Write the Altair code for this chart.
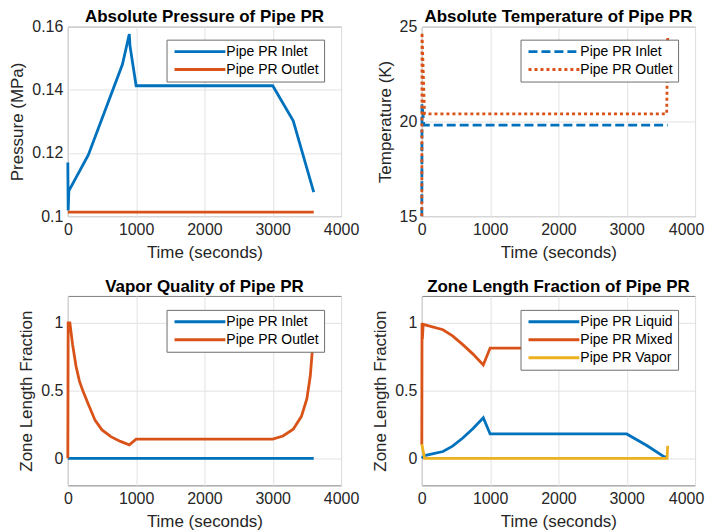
import altair as alt
import pandas as pd

FONT = "Liberation Sans"
BLUE, ORANGE, YELLOW = "#0072BD", "#D95319", "#EDB120"

# ---------------- data ----------------
# Absolute pressure (MPa)
p_in_t = [0, 5, 15, 300, 800, 900, 910, 1000, 3000, 3300, 3600]
p_in_v = [0.117, 0.1018, 0.108, 0.1194, 0.1481, 0.1577, 0.1539, 0.1413, 0.1413, 0.1302, 0.1076]
p_out_t = [0, 3600]
p_out_v = [0.1013, 0.1013]

# Absolute temperature (K)
T_in_t = [0, 3, 30, 3600]
T_in_v = [15.0, 20.9, 19.8, 19.8]
T_out_t = [0, 3, 40, 3585, 3600]
T_out_v = [15.0, 24.7, 20.4, 20.4, 24.5]

# Vapor quality
q_in_t = [0, 3600]
q_in_v = [0.0, 0.0]
q_out_t = [0, 5, 30, 70, 120, 170, 220, 300, 400, 500, 630, 770, 900, 1000,
           3000, 3150, 3300, 3420, 3500, 3550, 3580, 3600]
q_out_v = [0.0, 1.0, 1.0, 0.84, 0.68, 0.57, 0.5, 0.40, 0.28, 0.21, 0.16, 0.125, 0.10, 0.142,
           0.142, 0.165, 0.215, 0.31, 0.44, 0.61, 0.80, 1.0]

# Zone length fraction
z_liq_t = [0, 40, 310, 450, 600, 750, 900, 1000, 3000, 3300, 3550, 3600]
z_liq_v = [0.0, 0.02, 0.05, 0.09, 0.15, 0.22, 0.30, 0.18, 0.18, 0.093, 0.01, 0.01]
z_mix_t = [0, 3, 8, 20, 310, 450, 600, 750, 900, 1000, 3000, 3300, 3550, 3600]
z_mix_v = [0.1, 1.0, 0.88, 0.99, 0.95, 0.905, 0.84, 0.77, 0.69, 0.815, 0.815, 0.905, 0.98, 0.90]
z_vap_t = [0, 40, 3590, 3600]
z_vap_v = [0.105, 0.0, 0.0, 0.093]

x_ticks = [0, 1000, 2000, 3000, 4000]


def frame(series):
    rows = []
    for name, ts, vs in series:
        for i, (t, v) in enumerate(zip(ts, vs)):
            rows.append({"s": name, "t": t, "v": v, "i": i})
    return pd.DataFrame(rows)


def panel(series, title, ytitle, ydomain, yticks, yfmt, colors, lx, ly,
          dashes=None, right=False, title_offset=-7):
    names = [s[0] for s in series]
    df = frame(series)
    leg = alt.Legend(
        title=None, orient="none", legendX=lx, legendY=ly,
        fillColor="white", padding=5, symbolType="M-0.8,0L9.4,0", symbolSize=100,
        symbolStrokeWidth=3, labelFont=FONT, labelFontSize=14, labelColor="#000000",
        labelOffset=41, rowPadding=4, labelLimit=300,
    )
    xaxis_kw = dict(values=x_ticks, format="d", title="Time (seconds)", labelFlush=False)
    if right:
        # keep the last label inside the page
        xaxis_kw["labelOffset"] = {"condition": {"test": "datum.value === 4000", "value": -9}, "value": 0}
    enc = dict(
        x=alt.X("t:Q", scale=alt.Scale(domain=[0, 4000], nice=False), axis=alt.Axis(**xaxis_kw)),
        y=alt.Y("v:Q", scale=alt.Scale(domain=ydomain, nice=False, zero=False),
                axis=alt.Axis(values=yticks, format=yfmt, title=ytitle)),
        color=alt.Color("s:N", scale=alt.Scale(domain=names, range=colors), legend=leg),
        order=alt.Order("i:Q"),
    )
    if dashes is not None:
        enc["strokeDash"] = alt.StrokeDash("s:N", scale=alt.Scale(domain=names, range=dashes), legend=leg)
    return (
        alt.Chart(df, title=alt.TitleParams(title, offset=title_offset))
        .mark_line(strokeWidth=2.8)
        .encode(**enc)
        .properties(width=274, height=190)
    )


c1 = panel([("Pipe PR Inlet", p_in_t, p_in_v), ("Pipe PR Outlet", p_out_t, p_out_v)],
           "Absolute Pressure of Pipe PR", "Pressure (MPa)", [0.1, 0.16],
           [0.1, 0.12, 0.14, 0.16], ".2~f", [BLUE, ORANGE], 99, 13)
c2 = panel([("Pipe PR Inlet", T_in_t, T_in_v), ("Pipe PR Outlet", T_out_t, T_out_v)],
           "Absolute Temperature of Pipe PR", "Temperature (K)", [15, 25],
           [15, 20, 25], "d", [BLUE, ORANGE], 99, 13, dashes=[[9, 4], [3, 3]], right=True)
c3 = panel([("Pipe PR Inlet", q_in_t, q_in_v), ("Pipe PR Outlet", q_out_t, q_out_v)],
           "Vapor Quality of Pipe PR", "Zone Length Fraction", [-0.2, 1.2],
           [0, 0.5, 1], ".1~f", [BLUE, ORANGE], 99, 14, title_offset=-0.5)
c4 = panel([("Pipe PR Liquid", z_liq_t, z_liq_v), ("Pipe PR Mixed", z_mix_t, z_mix_v),
            ("Pipe PR Vapor", z_vap_t, z_vap_v)],
           "Zone Length Fraction of Pipe PR", "Zone Length Fraction", [-0.2, 1.2],
           [0, 0.5, 1], ".1~f", [BLUE, ORANGE, YELLOW], 99, 14, right=True, title_offset=-0.5)

chart = (
    alt.concat(c1, c2, c3, c4, columns=2, spacing={"row": 80, "column": 81}, bounds="flush")
    .resolve_scale(color="independent", strokeDash="independent")
    .properties(padding={"left": 0, "top": -2, "right": 0, "bottom": 0})
    .configure_view(stroke="#7f7f7f", strokeWidth=1)
    .configure_axis(
        grid=True, gridColor="#e2e2e2", gridWidth=1, domain=False, ticks=False,
        labelFont=FONT, labelFontSize=16, labelColor="#262626",
        titleFont=FONT, titleFontSize=17, titleFontWeight="normal", titleColor="#262626",
        minExtent=0,
    )
    .configure_axisX(labelPadding=5.5, titlePadding=7)
    .configure_axisY(labelPadding=5, titlePadding=5)
    .configure_title(font=FONT, fontSize=17, fontWeight="bold", color="#000000")
    .configure_legend(labelFont=FONT, strokeColor="#6e6e6e", strokeWidth=1, cornerRadius=0)
)

chart.save("out.html", embed_options={"renderer": "svg", "actions": False})
